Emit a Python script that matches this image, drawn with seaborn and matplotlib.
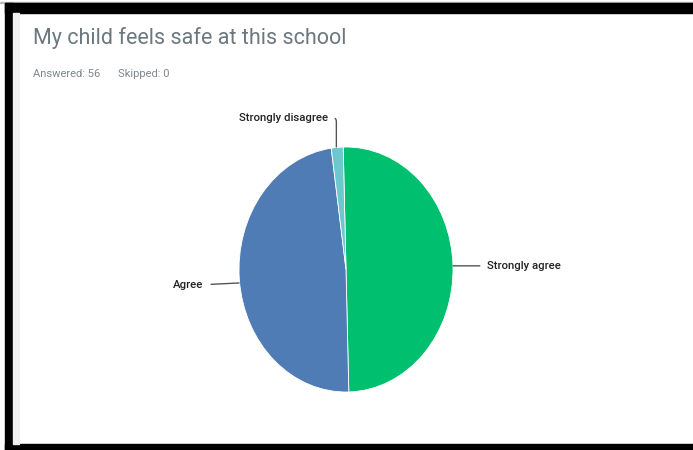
import matplotlib
matplotlib.use("Agg")
import matplotlib.pyplot as plt
from matplotlib.patches import Rectangle
import seaborn as sns

# survey responses (56 answered)
categories = ["Strongly agree", "Agree", "Strongly disagree"]
counts = [28, 27, 1]
colors = ["#00BF6F", "#507CB6", "#6BC8CD"]

title = "My child feels safe at this school"
subtitle = ["Answered: 56", "Skipped: 0"]

sns.set_theme(style="white")
plt.rcParams['font.family'] = ['Roboto', 'DejaVu Sans']

W, H = 693, 450
fig = plt.figure(figsize=(W / 100, H / 100), dpi=100)
fig.patch.set_facecolor("white")

# black frame like the screenshot
def px_rect(x0, y0, x1, y1, color):
    fig.patches.append(Rectangle((x0 / W, 1 - y1 / H), (x1 - x0) / W, (y1 - y0) / H,
                                 transform=fig.transFigure, color=color, zorder=0))

px_rect(0, 2, W, 3, "#bbbbbb")
px_rect(5, 3, W, 13, "black")
px_rect(5, 3, 13, H, "black")
px_rect(5, 444, W, H, "black")
px_rect(13, 13, 19, 444, "#f1f1f1")

fig.text(33 / W, 1 - 38 / H, title, fontsize=15.5, fontweight="normal",
         color="#6b787f", va="center", ha="left")
fig.text(33 / W, 1 - 74 / H, subtitle[0], fontsize=8, color="#7d878d",
         va="center", ha="left")
fig.text(118 / W, 1 - 74 / H, subtitle[1], fontsize=8, color="#7d878d",
         va="center", ha="left")

# pie axes, stretched into an ellipse
x0, x1, y0, y1 = 239, 453, 147, 392
ax = fig.add_axes([x0 / W, 1 - y1 / H, (x1 - x0) / W, (y1 - y0) / H])
wedges, _ = ax.pie(counts, colors=colors, startangle=91.5, counterclock=False,
                   wedgeprops=dict(linewidth=0.6, edgecolor="white"))
ax.set_xlim(-1, 1)
ax.set_ylim(-1, 1)
ax.set_aspect("auto")
ax.axis("off")

lab_kw = dict(fontsize=8.2, fontweight="medium", color="#222222", va="center")
line_kw = dict(color="#555555", lw=1)

# Strongly agree, right side
ax.annotate(categories[0], xy=(1.0, 0.03), xytext=(1.32, 0.03),
            textcoords="data", ha="left", annotation_clip=False,
            arrowprops=dict(arrowstyle="-", shrinkA=3, shrinkB=0, **line_kw), **lab_kw)
# Agree, left side
ax.annotate(categories[1], xy=(-1.0, -0.11), xytext=(-1.33, -0.13),
            textcoords="data", ha="right", annotation_clip=False,
            arrowprops=dict(arrowstyle="-", shrinkA=3, shrinkB=0, **line_kw), **lab_kw)
# Strongly disagree, top
ax.annotate(categories[2], xy=(-0.09, 1.0), xytext=(-0.17, 1.24),
            textcoords="data", ha="right", annotation_clip=False,
            arrowprops=dict(arrowstyle="-", shrinkA=3, shrinkB=0,
                            connectionstyle="angle,angleA=0,angleB=90,rad=4", **line_kw),
            **lab_kw)

fig.savefig("out.png", dpi=100)
